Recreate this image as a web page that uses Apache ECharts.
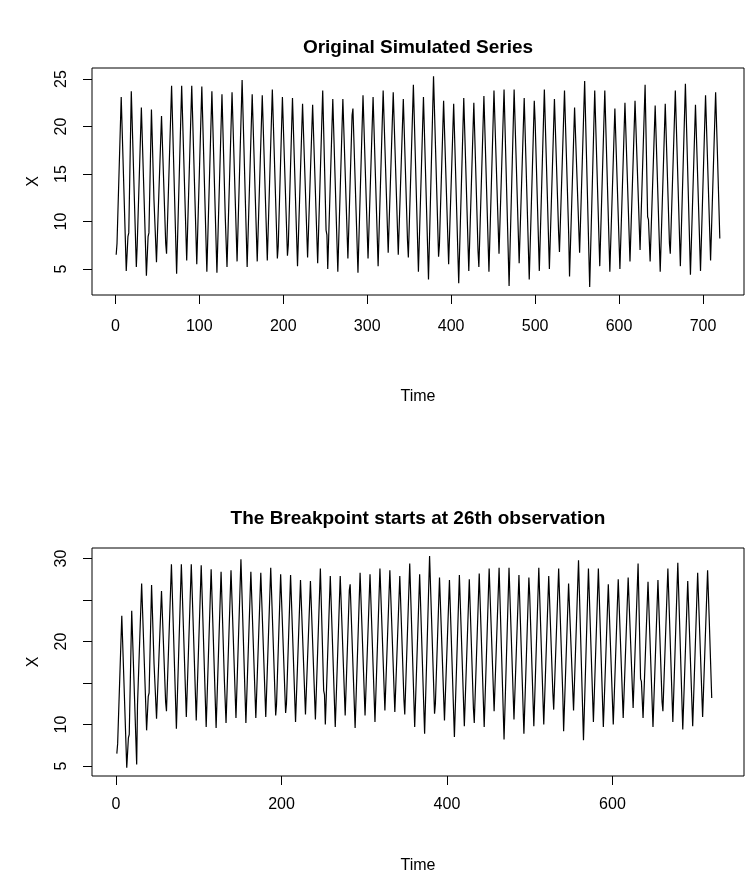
<!DOCTYPE html>
<html>
<head>
<meta charset="utf-8">
<title>Simulated series with breakpoint</title>
<script src="https://cdn.jsdelivr.net/npm/echarts@6.0.0/dist/echarts.min.js"></script>
<style>
  html, body { margin: 0; padding: 0; background: #fff; }
  #chart { width: 747px; height: 887px; }
</style>
</head>
<body>
<div id="chart"></div>
<script>
  // time index of the points (troughs, peaks and the small kinks between)
  var obsTime = [
    1, 2, 7, 13, 15, 16, 19, 25, 26, 27,
    31, 37, 39, 40, 43, 46, 49, 55, 60, 61,
    67, 73, 79, 85, 91, 97, 103, 109, 110, 115,
    121, 127, 131, 133, 139, 145, 151, 157, 163, 169,
    175, 181, 187, 193, 194, 199, 205, 206, 211, 217,
    223, 229, 235, 241, 247, 251, 252, 253, 259, 265,
    271, 277, 282, 283, 289, 295, 301, 307, 313, 319,
    325, 331, 337, 343, 348, 349, 355, 361, 367, 373,
    379, 385, 386, 391, 397, 403, 409, 415, 421, 427,
    432, 433, 439, 445, 451, 457, 463, 469, 475, 481,
    487, 493, 499, 500, 501, 505, 511, 517, 523, 528,
    529, 535, 540, 541, 547, 553, 559, 565, 571, 577,
    583, 589, 595, 601, 607, 613, 619, 625, 631, 634,
    635, 637, 643, 649, 655, 660, 661, 667, 673, 679,
    685, 691, 697, 703, 709, 715, 717, 718, 720
  ]

  // original simulated series
  var originalX = [
    6.5, 7.7, 23.1, 4.8, 8.4, 8.8, 23.7, 5.2, 7.4, 7.6,
    22.0, 4.3, 8.4, 8.8, 21.8, 12.3, 5.7, 21.1, 7.7, 6.6,
    24.3, 4.5, 24.3, 5.9, 24.3, 5.5, 24.2, 4.7, 7.9, 23.7,
    4.6, 23.4, 10.3, 5.2, 23.6, 5.8, 24.9, 5.2, 23.4, 5.8,
    23.3, 5.9, 23.9, 6.1, 7.4, 23.1, 6.4, 7.5, 23.0, 5.3,
    22.4, 6.2, 22.3, 5.6, 23.8, 9.1, 8.6, 5.0, 22.9, 4.7,
    22.9, 6.1, 21.2, 21.9, 4.6, 23.3, 6.1, 23.1, 5.3, 23.8,
    6.7, 23.6, 6.5, 22.9, 8.0, 6.2, 24.4, 4.7, 23.1, 3.9,
    25.3, 6.3, 7.5, 22.7, 5.5, 22.4, 3.5, 23.0, 4.8, 22.5,
    6.9, 5.2, 23.2, 4.7, 23.8, 6.6, 23.9, 3.2, 23.9, 5.6,
    23.0, 3.9, 22.7, 20.6, 20.4, 4.8, 23.9, 5.0, 22.9, 8.8,
    6.8, 23.8, 8.6, 4.2, 22.0, 6.7, 24.8, 3.1, 23.8, 5.3,
    23.8, 4.7, 21.9, 5.0, 22.5, 5.8, 22.7, 7.0, 24.4, 10.5,
    10.2, 5.8, 22.2, 4.7, 22.4, 7.7, 6.6, 23.8, 5.3, 24.5,
    4.4, 22.3, 4.8, 23.3, 5.9, 23.6, 17.6, 17.4, 8.2
  ]

  // series with the level shift from the 26th observation on
  var breakX = [
    6.5, 7.7, 23.1, 4.8, 8.4, 8.8, 23.7, 5.2, 12.4, 12.6,
    27.0, 9.3, 13.4, 13.8, 26.8, 17.3, 10.7, 26.1, 12.7, 11.6,
    29.3, 9.5, 29.3, 10.9, 29.3, 10.5, 29.2, 9.7, 12.9, 28.7,
    9.6, 28.4, 15.3, 10.2, 28.6, 10.8, 29.9, 10.2, 28.4, 10.8,
    28.3, 10.9, 28.9, 11.1, 12.4, 28.1, 11.4, 12.5, 28.0, 10.3,
    27.4, 11.2, 27.3, 10.6, 28.8, 14.1, 13.6, 10.0, 27.9, 9.7,
    27.9, 11.1, 26.2, 26.9, 9.6, 28.3, 11.1, 28.1, 10.3, 28.8,
    11.7, 28.6, 11.5, 27.9, 13.0, 11.2, 29.4, 9.7, 28.1, 8.9,
    30.3, 11.3, 12.5, 27.7, 10.5, 27.4, 8.5, 28.0, 9.8, 27.5,
    11.9, 10.2, 28.2, 9.7, 28.8, 11.6, 28.9, 8.2, 28.9, 10.6,
    28.0, 8.9, 27.7, 25.6, 25.4, 9.8, 28.9, 10.0, 27.9, 13.8,
    11.8, 28.8, 13.6, 9.2, 27.0, 11.7, 29.8, 8.1, 28.8, 10.3,
    28.8, 9.7, 26.9, 10.0, 27.5, 10.8, 27.7, 12.0, 29.4, 15.5,
    15.2, 10.8, 27.2, 9.7, 27.4, 12.7, 11.6, 28.8, 10.3, 29.5,
    9.4, 27.3, 9.8, 28.3, 10.9, 28.6, 22.6, 22.4, 13.2
  ]

  var topTimeTicks = [0, 100, 200, 300, 400, 500, 600, 700]
  var bottomTimeTicks = [0, 200, 400, 600]
  var topXTicks = [5, 10, 15, 20, 25]
  var bottomXTicks = [5, 10, 15, 20, 25, 30]
  var bottomXLabels = [5, 10, 20, 30]

  var font = "'Liberation Sans', Arial, sans-serif"

  function toPairs(values) {
    return obsTime.map(function (t, i) { return [t, values[i]] })
  }

  function timeAxis(gridIndex, min, max, ticks, labelMargin, nameGap) {
    return {
      type: 'value',
      gridIndex: gridIndex,
      min: min,
      max: max,
      name: 'Time',
      nameLocation: 'middle',
      nameGap: nameGap,
      nameTextStyle: { color: '#000', fontSize: 16, fontFamily: font },
      axisLine: { show: false, onZero: false },
      axisTick: { show: true, customValues: ticks, length: 9, lineStyle: { color: '#000', width: 1 } },
      axisLabel: { customValues: ticks, margin: labelMargin, color: '#000', fontSize: 16, fontFamily: font },
      splitLine: { show: false }
    }
  }

  function valueAxis(gridIndex, min, max, ticks, labels) {
    return {
      type: 'value',
      gridIndex: gridIndex,
      min: min,
      max: max,
      name: 'X',
      nameLocation: 'middle',
      nameRotate: 90,
      nameGap: 50,
      nameTextStyle: { color: '#000', fontSize: 16, fontFamily: font },
      axisLine: { show: false, onZero: false },
      axisTick: { show: true, customValues: ticks, length: 9, lineStyle: { color: '#000', width: 1 } },
      axisLabel: { customValues: labels, rotate: 90, margin: 22, color: '#000', fontSize: 16, fontFamily: font },
      splitLine: { show: false }
    }
  }

  function titleText(text, y) {
    return {
      type: 'text',
      x: 418,
      y: y,
      style: {
        text: text,
        font: 'bold 19px ' + font,
        fill: '#000',
        align: 'center',
        verticalAlign: 'middle',
        textAlign: 'center',
        textVerticalAlign: 'middle'
      }
    }
  }

  var chart = echarts.init(document.getElementById('chart'))
  var option = {
    animation: false,
    backgroundColor: '#fff',
    graphic: [
      titleText('Original Simulated Series', 48),
      titleText('The Breakpoint starts at 26th observation', 519)
    ],
    grid: [
      { left: 92, top: 68, width: 652, height: 227, show: true, borderColor: '#000', borderWidth: 1, outerBoundsMode: 'none' },
      { left: 92, top: 548, width: 652, height: 228, show: true, borderColor: '#000', borderWidth: 1, outerBoundsMode: 'none' }
    ],
    xAxis: [
      timeAxis(0, -27.8, 748.8, topTimeTicks, 24, 94),
      timeAxis(1, -29, 759, bottomTimeTicks, 21, 82)
    ],
    yAxis: [
      valueAxis(0, 2.26, 26.16, topXTicks, topXTicks),
      valueAxis(1, 3.8, 31.27, bottomXTicks, bottomXLabels)
    ],
    series: [
      {
        name: 'Original',
        type: 'line',
        xAxisIndex: 0,
        yAxisIndex: 0,
        showSymbol: false,
        symbol: 'none',
        lineStyle: { color: '#000', width: 1.2 },
        data: toPairs(originalX)
      },
      {
        name: 'Breakpoint',
        type: 'line',
        xAxisIndex: 1,
        yAxisIndex: 1,
        showSymbol: false,
        symbol: 'none',
        lineStyle: { color: '#000', width: 1.2 },
        data: toPairs(breakX)
      }
    ]
  }
  chart.setOption(option)
</script>
</body>
</html>
